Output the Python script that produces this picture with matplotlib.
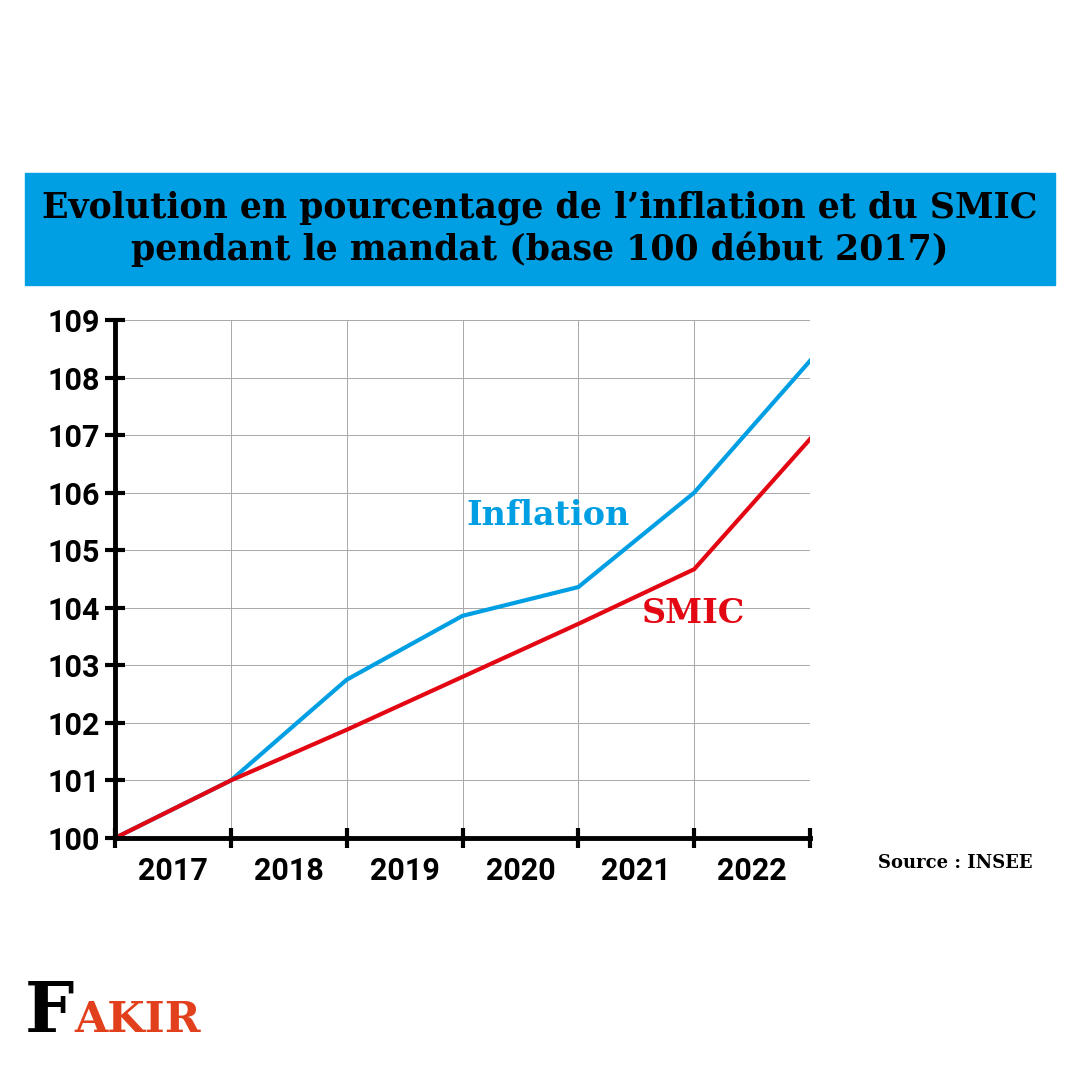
import matplotlib
matplotlib.use('Agg')
import matplotlib.pyplot as plt
from matplotlib.patches import Rectangle

years = ['2017', '2018', '2019', '2020', '2021', '2022']
points = [0, 1, 2, 3, 4, 5, 6]
inflation = [100, 101, 102.75, 103.86, 104.36, 106.0, 108.29]
smic = [100, 101, 101.88, 102.8, 103.72, 104.67, 106.93]

BLUE = '#009FE3'
RED = '#E30613'
SLAB = 'DejaVu Serif'
TICKFONT = ['Roboto', 'DejaVu Sans']

fig = plt.figure(figsize=(10.8, 10.8), dpi=100)

# bandeau titre
fig.patches.append(Rectangle((25 / 1080, 1 - 285 / 1080), 1030 / 1080, 112 / 1080,
                             transform=fig.transFigure, color=BLUE, zorder=0))
fig.text(0.5, 1 - 229 / 1080,
         "Evolution en pourcentage de l\u2019inflation et du SMIC\npendant le mandat (base 100 d\u00e9but 2017)",
         ha='center', va='center', fontsize=25, fontweight='heavy', family=SLAB,
         linespacing=1.22, color='black')

ax = fig.add_axes([115 / 1080, 1 - 838 / 1080, 695 / 1080, 518 / 1080])
ax.plot(points, inflation, color=BLUE, lw=3, solid_joinstyle='miter', zorder=3)
ax.plot(points, smic, color=RED, lw=3, solid_joinstyle='miter', zorder=4)

ax.set_xlim(0, 6)
ax.set_ylim(100, 109)
ax.set_xticks(points)
ax.set_xticklabels([])
ax.set_xticks([p + 0.5 for p in points[:-1]], minor=True)
ax.set_xticklabels(years, minor=True)
ax.set_yticks(range(100, 110))
ax.grid(True, color='#a8a8a8', lw=0.7)
ax.tick_params(axis='x', which='major', direction='inout', length=14, width=3)
ax.tick_params(axis='x', which='minor', length=0, pad=13)
ax.tick_params(axis='y', direction='inout', length=14, width=3, pad=4)
for lab in ax.get_xticklabels(minor=True) + ax.get_yticklabels():
    lab.set_family(TICKFONT)
    lab.set_fontweight('bold')
    lab.set_fontsize(22)

for side in ['top', 'right']:
    ax.spines[side].set_visible(False)
for side in ['left', 'bottom']:
    ax.spines[side].set_linewidth(3.5)
    ax.spines[side].set_zorder(5)

ax.text(3.74, 105.6, 'Inflation', color=BLUE, fontsize=24, fontweight='bold',
        family=SLAB, ha='center', va='center')
ax.text(4.99, 103.9, 'SMIC', color=RED, fontsize=24, fontweight='bold',
        family=SLAB, ha='center', va='center')

fig.text(955 / 1080, 1 - 863 / 1080, 'Source : INSEE', ha='center', va='center',
         fontsize=13, fontweight='bold', family=SLAB)

# logo
fig.text(25 / 1080, 1 - 1013 / 1080, 'F', ha='left', va='center', fontsize=50,
         fontweight='bold', family=SLAB, color='black')
fig.text(74 / 1080, 1 - 1020 / 1080, 'AKIR', ha='left', va='center', fontsize=31,
         fontweight='bold', family=SLAB, color='#E2401C')

fig.savefig('out.png', dpi=100)
